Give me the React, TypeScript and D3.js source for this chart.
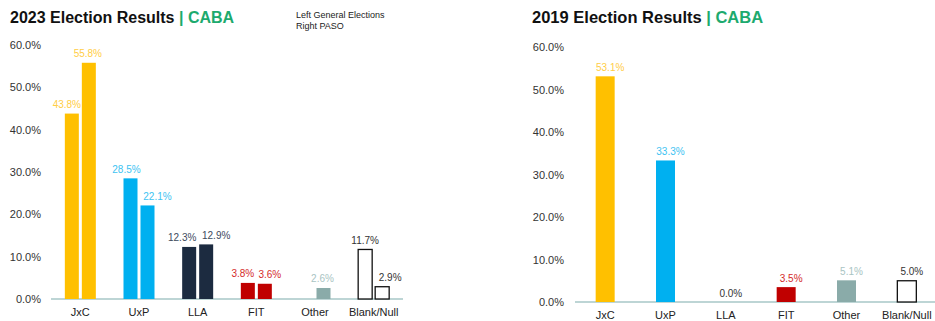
import React from "react";
import * as d3 from "d3";

const categories = ["JxC", "UxP", "LLA", "FIT", "Other", "Blank/Null"];
const general2023: (number | null)[] = [43.8, 28.5, 12.3, 3.8, null, 11.7];
const paso2023: (number | null)[] = [55.8, 22.1, 12.9, 3.6, 2.6, 2.9];
const results2019: (number | null)[] = [53.1, 33.3, 0.0, 3.5, 5.1, 5.0];
const yTicks = [0, 10, 20, 30, 40, 50, 60];

const barColors = ["#FFC000", "#00B0F0", "#1C2B40", "#C00000", "#8AABA9", "#FFFFFF"];
const labelColors = ["#FFCD45", "#3DC3F2", "#3D4A5C", "#D42A2A", "#A9C4C3", "#333333"];
// horizontal label nudges (style only)
const leftNudge = [-5, -4, -7, -5, 0, 0];
const rightNudge = [-1, 10, 10, 5, -1, 8];

const FONT = "'Liberation Sans', Arial, sans-serif";
const fmt = (v: number) => v.toFixed(1) + "%";

function Title({ x, text, size }: { x: number; text: string; size: number }) {
  return (
    <text x={x} y={23} fontFamily={FONT} fontWeight="bold" fontSize={size} fill="#111">
      {text}
      <tspan fill="#1DAA6E"> | CABA</tspan>
    </text>
  );
}

function YAxis({ y, xRight, x0, x1 }: { y: d3.ScaleLinear<number, number>; xRight: number; x0: number; x1: number }) {
  return (
    <g>
      {yTicks.map((t) => (
        <text key={t} x={xRight} y={y(t) + 4} textAnchor="end" fontFamily={FONT} fontSize={11} fill="#333">
          {t.toFixed(1) + "%"}
        </text>
      ))}
      <line x1={x0} x2={x1} y1={y(0)} y2={y(0)} stroke="#A7C7C7" strokeWidth={1.5} />
    </g>
  );
}

function Chart2023() {
  const x = d3.scaleBand<string>().domain(categories).range([51, 403]).paddingInner(0);
  const y = d3.scaleLinear().domain([0, 60]).range([299, 45]);
  const bw = 14;
  const gap = 3;
  const series = [
    { vals: general2023, off: -gap / 2 - bw, nudge: leftNudge },
    { vals: paso2023, off: gap / 2, nudge: rightNudge },
  ];
  return (
    <g>
      <Title x={10} text="2023 Election Results" size={16} />
      <text x={296} y={18} fontFamily={FONT} fontSize={9} fill="#222">Left General Elections</text>
      <text x={296} y={29} fontFamily={FONT} fontSize={9} fill="#222">Right PASO</text>
      <YAxis y={y} xRight={41} x0={51} x1={403} />
      {series.map((s, si) =>
        s.vals.map((v, i) => {
          if (v === null) return null;
          const cx = (x(categories[i]) as number) + x.bandwidth() / 2;
          const bx = cx + s.off;
          const isBlank = categories[i] === "Blank/Null";
          return (
            <g key={si + "-" + i}>
              <rect
                x={bx}
                y={y(v)}
                width={bw}
                height={y(0) - y(v)}
                fill={barColors[i]}
                stroke={isBlank ? "#111" : "none"}
                strokeWidth={isBlank ? 1.3 : 0}
              />
              <text
                x={bx + bw / 2 + s.nudge[i]}
                y={y(v) - 5.5}
                textAnchor="middle"
                fontFamily={FONT}
                fontSize={10}
                fill={labelColors[i]}
              >
                {fmt(v)}
              </text>
            </g>
          );
        })
      )}
      {categories.map((c) => (
        <text key={c} x={(x(c) as number) + x.bandwidth() / 2} y={316} textAnchor="middle" fontFamily={FONT} fontSize={11} fill="#222">
          {c}
        </text>
      ))}
    </g>
  );
}

function Chart2019() {
  const x = d3.scaleBand<string>().domain(categories).range([575, 937]).paddingInner(0);
  const y = d3.scaleLinear().domain([0, 60]).range([302, 47]);
  const bw = 19;
  return (
    <g>
      <Title x={532} text="2019 Election Results" size={16.5} />
      <YAxis y={y} xRight={564} x0={575} x1={937} />
      {results2019.map((v, i) => {
        if (v === null) return null;
        const cx = (x(categories[i]) as number) + x.bandwidth() / 2;
        const isBlank = categories[i] === "Blank/Null";
        return (
          <g key={i}>
            {v > 0 && (
              <rect
                x={cx - bw / 2}
                y={y(v)}
                width={bw}
                height={y(0) - y(v)}
                fill={barColors[i]}
                stroke={isBlank ? "#111" : "none"}
                strokeWidth={isBlank ? 1.3 : 0}
              />
            )}
            <text x={cx + 5} y={y(v) - 5.5} textAnchor="middle" fontFamily={FONT} fontSize={10} fill={v === 0 ? "#333" : labelColors[i]}>
              {fmt(v)}
            </text>
          </g>
        );
      })}
      {categories.map((c) => (
        <text key={c} x={(x(c) as number) + x.bandwidth() / 2} y={319} textAnchor="middle" fontFamily={FONT} fontSize={11} fill="#222">
          {c}
        </text>
      ))}
    </g>
  );
}

export default function App() {
  return (
    <svg width={935} height={321} style={{ position: "absolute", left: 0, top: 0, background: "#fff" }}>
      <rect width={935} height={321} fill="#fff" />
      <Chart2023 />
      <Chart2019 />
    </svg>
  );
}
